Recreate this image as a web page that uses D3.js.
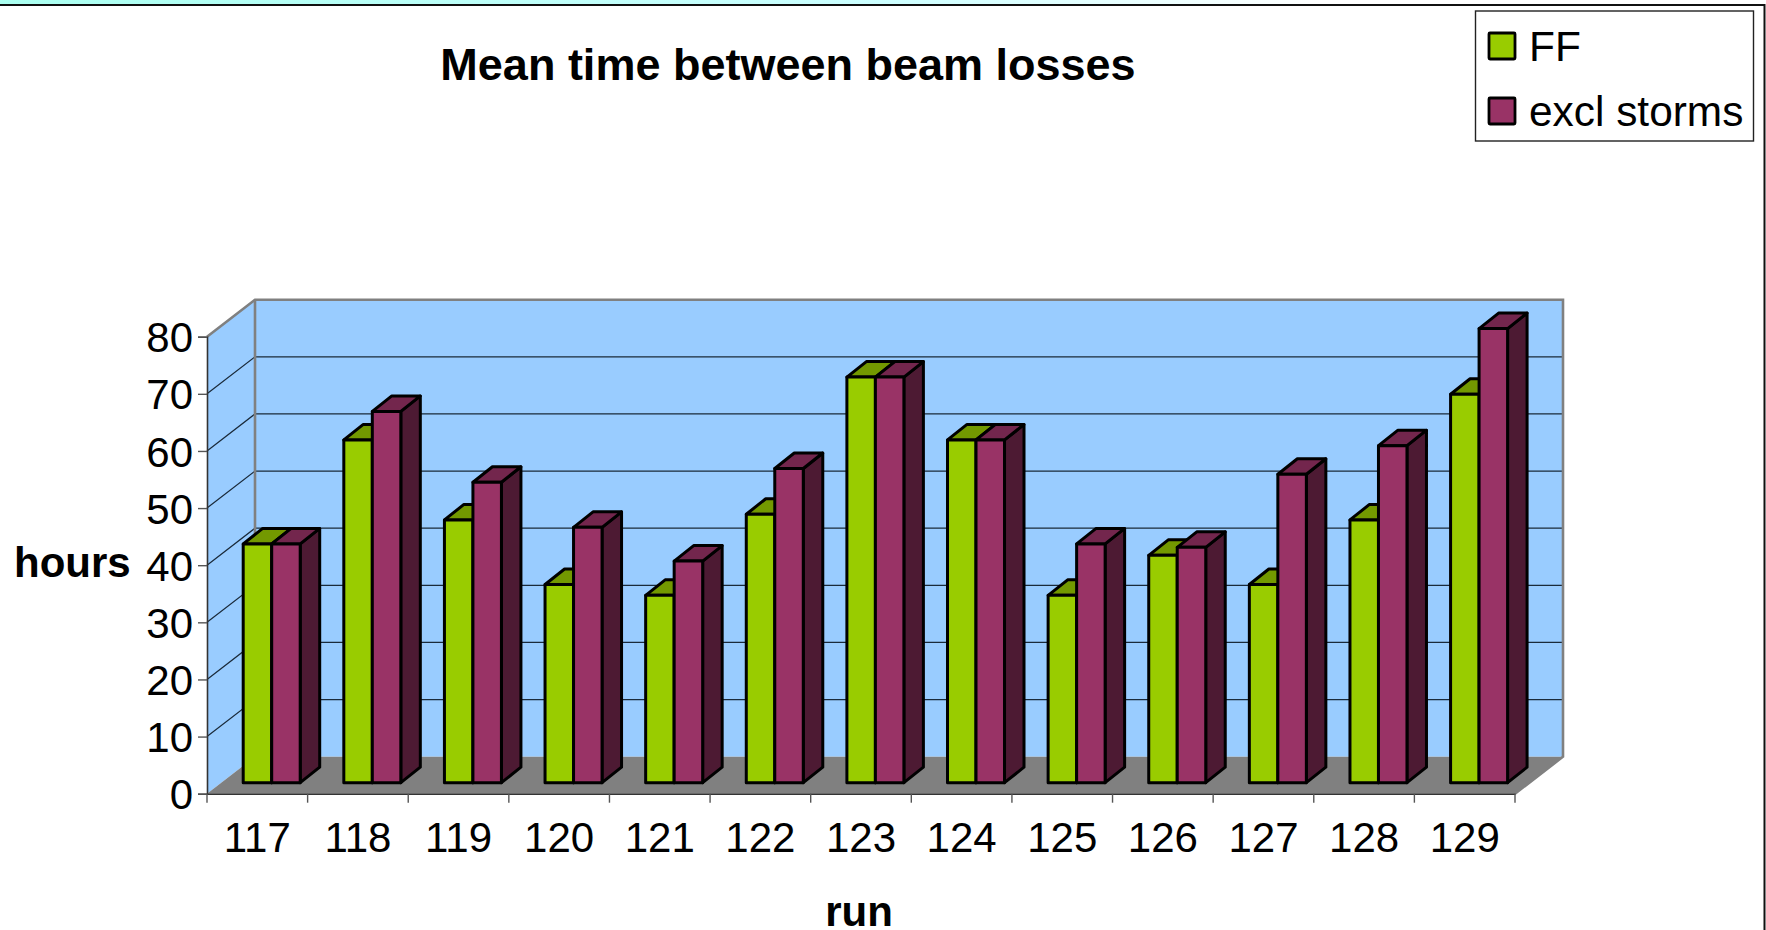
<!DOCTYPE html>
<html><head><meta charset="utf-8">
<script src="https://cdn.jsdelivr.net/npm/d3@7/dist/d3.min.js"></script>
<style>html,body{margin:0;padding:0;background:#fff}svg{display:block}text{font-family:"Liberation Sans",Arial,sans-serif;fill:#000}</style>
</head><body><div id="c"></div>
<script>
const runs=["117","118","119","120","121","122","123","124","125","126","127","128","129"];
const ff=[41.8,60,46,34.7,32.8,47,71,60,32.8,39.8,34.7,46,68];
const exclStorms=[41.8,65,52.6,44.7,38.8,55,71,60,41.8,41.2,54,59,79.5];
const yTicks=[0,10,20,30,40,50,60,70,80];
const seriesNames=["FF","excl storms"];
const colors={FF:{front:"#99cc00",top:"#739900",side:"#4d6600"},"excl storms":{front:"#993366",top:"#73264d",side:"#4d1a33"}};

const W=1766,H=930;
const svg=d3.select("#c").append("svg").attr("width",W).attr("height",H);
const x=d3.scaleBand().domain(runs).range([207,1515]);
const y=d3.scaleLinear().domain([0,80]).range([793.7,336.7]);
const dx=48,dy=-37, bdx=19.5,bdy=-15.5;
const grey="#808080";

const grad=svg.append("defs").append("linearGradient").attr("id","strip");
grad.append("stop").attr("offset","0").attr("stop-color","#aafff0");
grad.append("stop").attr("offset","0.5").attr("stop-color","#ccffff");
grad.append("stop").attr("offset","0.75").attr("stop-color","#ffffff");
svg.append("rect").attr("x",0).attr("y",0).attr("width",W).attr("height",4.5).attr("fill","url(#strip)");
svg.append("path").attr("d",`M0,5H1764.5V${H}`).attr("fill","none").attr("stroke","#111").attr("stroke-width",2);

const y0=y(0),y80=y(80),xL=x.range()[0],xR=x.range()[1];
// walls
svg.append("path").attr("d",`M${xL},${y0}L${xL+dx},${y0+dy}L${xL+dx},${y80+dy}L${xL},${y80}Z`).attr("fill","#99ccff");
svg.append("rect").attr("x",xL+dx).attr("y",y80+dy).attr("width",xR-xL).attr("height",y0-y80).attr("fill","#99ccff");
svg.append("path").attr("d",`M${xL},${y0}L${xL+dx},${y0+dy}L${xR+dx},${y0+dy}L${xR},${y0}Z`).attr("fill",grey);
// gridlines
yTicks.filter(t=>t>0&&t<80).forEach(t=>{
  svg.append("path").attr("d",`M${xL},${y(t)}L${xL+dx},${y(t)+dy}H${xR+dx}`).attr("fill","none").attr("stroke","#1a2a3a").attr("stroke-width",1.2);
});
// wall frame
svg.append("path").attr("d",`M${xL},${y80}L${xL+dx},${y80+dy}H${xR+dx}V${y0+dy}L${xR},${y0}`).attr("fill","none").attr("stroke",grey).attr("stroke-width",2.6);
svg.append("path").attr("d",`M${xL+dx},${y80+dy}V${y0+dy}`).attr("fill","none").attr("stroke",grey).attr("stroke-width",2.6);

// axes
const yAxis=d3.axisLeft(y).tickValues(yTicks).tickSize(9).tickPadding(5);
const gy=svg.append("g").attr("transform",`translate(${xL},0)`).call(yAxis);
const xAxis=d3.axisBottom(x).tickSize(0).tickPadding(28);
const gx=svg.append("g").attr("transform",`translate(0,${y0})`).call(xAxis);
[gy,gx].forEach(g=>{g.selectAll("path.domain").attr("stroke","#333").attr("stroke-width",1.6);
 g.selectAll("line").attr("stroke","#555").attr("stroke-width",1.4);
 g.selectAll("text").attr("font-size",42).attr("font-family","Liberation Sans").attr("fill","#000");});
gy.selectAll("text").attr("dy","0.36em");
gx.selectAll("text").attr("dy","0.71em");
gx.selectAll("line.bound").data(runs.concat(["end"])).enter().append("line").attr("class","bound")
 .attr("x1",(d,i)=>i<runs.length?x(d):xR).attr("x2",(d,i)=>i<runs.length?x(d):xR)
 .attr("y1",0).attr("y2",9).attr("stroke","#555").attr("stroke-width",1.4);

// bars
const barW=28.5, offs=36.2;
const bars=[];
runs.forEach((r,i)=>{bars.push({r,s:"FF",v:ff[i],k:0});bars.push({r,s:"excl storms",v:exclStorms[i],k:1});});
const base=y0-11;
const gb=svg.append("g").attr("stroke","#000").attr("stroke-width",3).attr("stroke-linejoin","round");
bars.forEach(b=>{
  const X=x(b.r)+offs+b.k*barW, T=y(b.v)-11, c=colors[b.s];
  const g=gb.append("g");
  g.append("path").attr("d",`M${X+barW},${base}L${X+barW+bdx},${base+bdy}V${T+bdy}L${X+barW},${T}Z`).attr("fill",c.side);
  g.append("path").attr("d",`M${X},${T}L${X+bdx},${T+bdy}H${X+barW+bdx}L${X+barW},${T}Z`).attr("fill",c.top);
  g.append("rect").attr("x",X).attr("y",T).attr("width",barW).attr("height",base-T).attr("fill",c.front);
});

// titles
svg.append("text").attr("x",788).attr("y",80).attr("text-anchor","middle").attr("font-size",45).attr("font-weight","bold").text("Mean time between beam losses");
svg.append("text").attr("x",14).attr("y",577).attr("font-size",42).attr("font-weight","bold").text("hours");
svg.append("text").attr("x",859).attr("y",926).attr("text-anchor","middle").attr("font-size",42).attr("font-weight","bold").text("run");

// legend
svg.append("rect").attr("x",1475.5).attr("y",11).attr("width",278).attr("height",130).attr("fill","#fff").attr("stroke","#222").attr("stroke-width",1.4);
seriesNames.forEach((n,i)=>{
  const ly=[46,111][i];
  svg.append("rect").attr("x",1489).attr("y",ly-13).attr("width",26).attr("height",26).attr("fill",colors[n].front).attr("stroke","#000").attr("stroke-width",2.8).attr("rx",1);
  svg.append("text").attr("x",1529).attr("y",ly+15).attr("font-size",42.4).text(n);
});
</script></body></html>
